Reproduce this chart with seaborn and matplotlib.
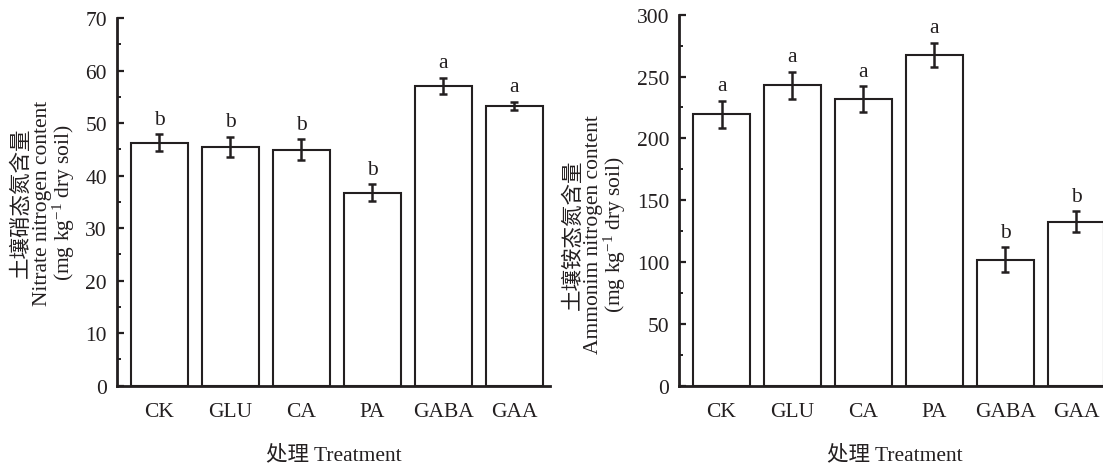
import numpy as np
import pandas as pd
import matplotlib
matplotlib.use("Agg")
import matplotlib.pyplot as plt
from matplotlib.ticker import MultipleLocator
import seaborn as sns

# ---- data ----
treatments = ["CK", "GLU", "CA", "PA", "GABA", "GAA"]
nitrate = [46.3, 45.5, 44.9, 36.8, 57.1, 53.3]
nitrate_err = [1.6, 1.9, 2.0, 1.6, 1.5, 0.8]
nitrate_sig = ["b", "b", "b", "b", "a", "a"]
ammonium = [219.5, 243.0, 231.5, 267.5, 102.0, 132.5]
ammonium_err = [11.0, 11.0, 10.5, 10.0, 10.0, 8.5]
ammonium_sig = ["a", "a", "a", "a", "b", "b"]

sns.set_style("ticks")
INK = "#231f20"
SERIF = "Liberation Serif"
CJK = "Noto Sans CJK SC"
plt.rcParams["font.family"] = [SERIF, CJK]
plt.rcParams["mathtext.fontset"] = "custom"
plt.rcParams["mathtext.rm"] = SERIF
plt.rcParams["mathtext.it"] = SERIF + ":italic"
plt.rcParams["axes.unicode_minus"] = False

FS = 15.5
W, H = 1103, 464
fig = plt.figure(figsize=(W / 100, H / 100), dpi=100)

def px_axes(x0, ytop, width, ybot):
    return fig.add_axes([x0 / W, 1 - ybot / H, width / W, (ybot - ytop) / H])

axL = px_axes(116.7, 19.2, 433.3, 386.7)
axR = px_axes(679.0, 15.7, 432.5, 386.7)

panels = [
    (axL, nitrate, nitrate_err, nitrate_sig, (0, 70), 10, 5,
     ["土壤硝态氮含量", "Nitrate nitrogen content", "(mg kg$^{-1}$ dry soil)"],
     (-0.172, 0.5)),
    (axR, ammonium, ammonium_err, ammonium_sig, (0, 300), 50, 25,
     ["土壤铵态氮含量", "Ammonim nitrogen content", "(mg kg$^{-1}$ dry soil)"],
     (-0.197, 0.409)),
]

for ax, vals, errs, sig, ylim, major, minor, ylab, ylpos in panels:
    df = pd.DataFrame({"t": treatments, "v": vals})
    sns.barplot(data=df, x="t", y="v", color="white", edgecolor=INK,
                linewidth=1.5, width=0.8, ax=ax, errorbar=None, saturation=1)
    xs = np.arange(len(treatments))
    ax.errorbar(xs, vals, yerr=errs, fmt="none", ecolor=INK, elinewidth=1.8,
                capsize=3, capthick=1.8, zorder=5)
    for x, v, e, s in zip(xs, vals, errs, sig):
        ax.annotate(s, (x, v + e), xytext=(0, 4), textcoords="offset points",
                    ha="center", va="bottom", fontsize=FS, color=INK,
                    family=SERIF)
    ax.set_xlim(-0.6, 5.5)
    ax.set_ylim(*ylim)
    ax.yaxis.set_major_locator(MultipleLocator(major))
    ax.yaxis.set_minor_locator(MultipleLocator(minor))
    ax.set_xlabel("")
    ax.set_ylabel("")
    for side in ("top", "right"):
        ax.spines[side].set_visible(False)
    for side in ("left", "bottom"):
        ax.spines[side].set_linewidth(2.0)
        ax.spines[side].set_color(INK)
    ax.tick_params(axis="y", which="major", direction="in", length=5, width=1.6,
                   colors=INK, labelsize=FS, pad=7)
    ax.tick_params(axis="y", which="minor", direction="in", length=3, width=1.4,
                   colors=INK)
    ax.tick_params(axis="x", which="both", length=0, labelsize=FS, pad=12,
                   colors=INK)
    for lab in ax.get_xticklabels() + ax.get_yticklabels():
        lab.set_family(SERIF)
    # y label (three lines)
    lx, ly = ylpos
    dx = 21.5 / (ax.get_position().width * W)
    ax.text(lx - dx, ly, ylab[0], transform=ax.transAxes, rotation=90,
            ha="center", va="center", fontsize=FS, color=INK, family=CJK)
    ax.text(lx, ly, ylab[1], transform=ax.transAxes, rotation=90,
            ha="center", va="center", fontsize=FS, color=INK, family=SERIF)
    ax.text(lx + dx, ly, ylab[2], transform=ax.transAxes, rotation=90,
            ha="center", va="center", fontsize=FS, color=INK, family=SERIF)
    # x label
    ax.text(0.5, -69 / (ax.get_position().height * H), "处理 Treatment",
            transform=ax.transAxes, ha="center", va="center", fontsize=FS,
            color=INK, family=[SERIF, CJK])

fig.savefig("out.png", dpi=100)
